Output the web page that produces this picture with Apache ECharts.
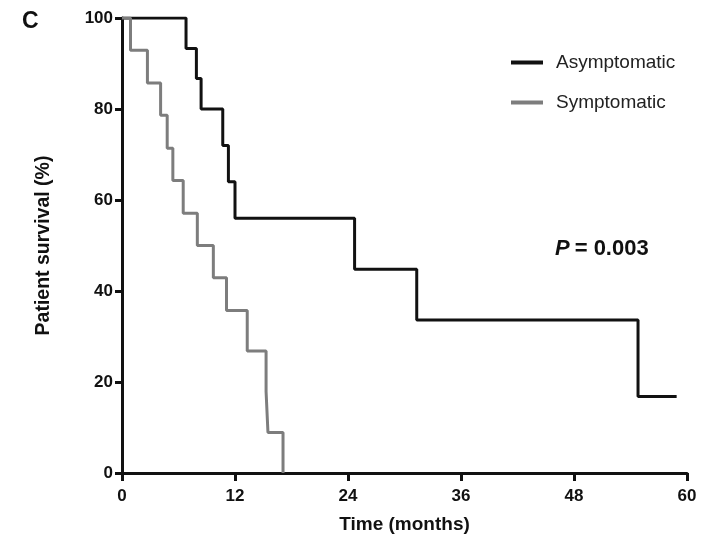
<!DOCTYPE html>
<html>
<head>
<meta charset="utf-8">
<script src="https://cdn.jsdelivr.net/npm/echarts@6/dist/echarts.min.js"></script>
<style>
  html, body { margin: 0; padding: 0; background: #fff; }
  #main { width: 707px; height: 540px; }
</style>
</head>
<body>
<div id="main"></div>
<script>
// Kaplan-Meier survival
var seriesNames = ['Asymptomatic', 'Symptomatic'];

// months at each step / survival (%) after the step
var asymMonths = [0, 6.8, 7.9, 8.4, 10.7, 11.3, 12.0, 24.7, 31.3, 54.8, 58.9];
var asymSurv   = [100, 93.3, 86.7, 80, 72, 64, 56, 44.8, 33.6, 16.8, 16.8];

var symMonths = [0, 0.9, 2.7, 4.1, 4.8, 5.4, 6.5, 8.0, 9.7, 11.1, 13.3, 15.3, 15.5, 17.1];
var symSurv   = [100, 92.9, 85.7, 78.6, 71.4, 64.3, 57.1, 50, 42.9, 35.7, 26.8, 17.9, 8.9, 0];

var xTicks = [0, 12, 24, 36, 48, 60];
var yTicks = [0, 20, 40, 60, 80, 100];

function pairs(xs, ys) {
    return xs.map(function (x, i) { return [x, ys[i]]; });
}

var myChart = echarts.init(document.getElementById('main'));

var axisFont = 'Liberation Sans, Arial, sans-serif';

var option = {
    animation: false,
    title: [
        {
            text: 'C',
            left: 17,
            top: 5,
            textStyle: { fontFamily: axisFont, fontSize: 23, fontWeight: 'bold', color: '#111' }
        },
        {
            text: '{p|P} {r|= 0.003}',
            left: 550,
            top: 233,
            textStyle: {
                rich: {
                    p: { fontFamily: axisFont, fontSize: 22, fontWeight: 'bold', fontStyle: 'italic', color: '#111' },
                    r: { fontFamily: axisFont, fontSize: 22, fontWeight: 'bold', color: '#111' }
                }
            }
        }
    ],
    legend: {
        orient: 'vertical',
        left: 506,
        top: 48,
        itemWidth: 32,
        itemHeight: 4,
        itemGap: 21,
        icon: 'rect',
        data: seriesNames,
        textStyle: { fontFamily: axisFont, fontSize: 19, color: '#222', padding: [0, 0, 0, 8] }
    },
    grid: {
        left: 122,
        right: 20,
        top: 18,
        bottom: 67
    },
    xAxis: {
        type: 'value',
        min: xTicks[0],
        max: xTicks[xTicks.length - 1],
        interval: 12,
        name: 'Time (months)',
        nameLocation: 'middle',
        nameGap: 42,
        nameTextStyle: { fontFamily: axisFont, fontSize: 19, fontWeight: 'bold', color: '#111' },
        axisLine: { lineStyle: { color: '#111', width: 3 } },
        axisTick: { length: 8, lineStyle: { color: '#111', width: 3 } },
        axisLabel: { margin: 15, fontFamily: axisFont, fontSize: 17, fontWeight: 'bold', color: '#111' },
        splitLine: { show: false }
    },
    yAxis: {
        type: 'value',
        min: yTicks[0],
        max: yTicks[yTicks.length - 1],
        interval: 20,
        name: 'Patient survival (%)',
        nameLocation: 'middle',
        nameGap: 68,
        nameTextStyle: { fontFamily: axisFont, fontSize: 19.5, fontWeight: 'bold', color: '#111' },
        axisLine: { lineStyle: { color: '#111', width: 3 } },
        axisTick: { length: 7, lineStyle: { color: '#111', width: 3 } },
        axisLabel: { margin: 9, fontFamily: axisFont, fontSize: 17, fontWeight: 'bold', color: '#111' },
        splitLine: { show: false }
    },
    series: [
        {
            name: seriesNames[0],
            type: 'line',
            step: 'end',
            showSymbol: false,
            symbol: 'none',
            color: '#111',
            lineStyle: { width: 3, color: '#111' },
            data: pairs(asymMonths, asymSurv)
        },
        {
            name: seriesNames[1],
            type: 'line',
            step: 'end',
            showSymbol: false,
            symbol: 'none',
            color: '#7d7d7d',
            lineStyle: { width: 3, color: '#7d7d7d' },
            data: pairs(symMonths, symSurv)
        }
    ]
};

myChart.setOption(option);
</script>
</body>
</html>
